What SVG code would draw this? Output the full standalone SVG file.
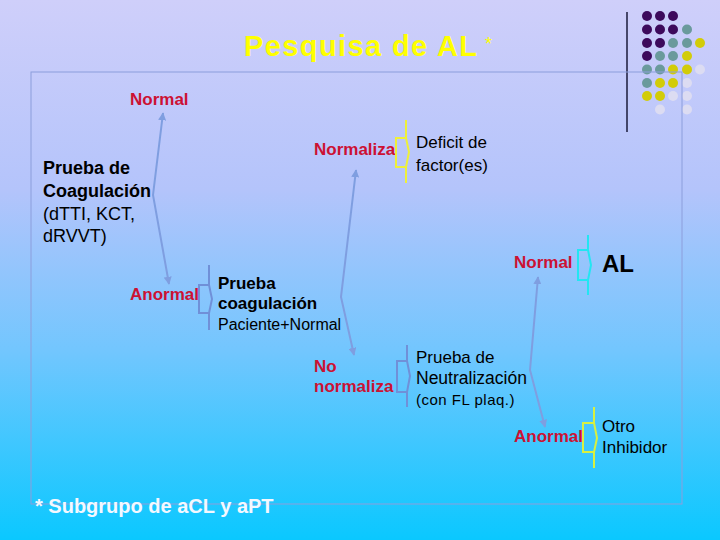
<svg xmlns="http://www.w3.org/2000/svg" width="720" height="540" viewBox="0 0 720 540">
<defs>
<linearGradient id="bg" x1="0" y1="0" x2="0" y2="1">
<stop offset="0" stop-color="#cfcffa"/>
<stop offset="0.35" stop-color="#b4c4fb"/>
<stop offset="0.65" stop-color="#72c6fe"/>
<stop offset="1" stop-color="#0ac8ff"/>
</linearGradient>
<marker id="ah" viewBox="0 0 10 10" refX="9" refY="5" markerWidth="4" markerHeight="4" orient="auto-start-reverse" markerUnits="strokeWidth">
<path d="M0,0 L10,5 L0,10 z" fill="#7f9ee0"/>
</marker>
<style>
text{font-family:"Liberation Sans",Arial,sans-serif}
.red{fill:#cc1133;font-weight:bold;font-size:17px}
.blk{fill:#000;font-size:17px}
.bold{font-weight:bold}
.conn{fill:none;stroke:#7f9ee0;stroke-width:2;marker-start:url(#ah);marker-end:url(#ah)}
.br{fill:none;stroke-width:2}
</style>
</defs>
<rect x="0" y="0" width="720" height="540" fill="url(#bg)"/>

<g id="decor">
<line x1="627" y1="12" x2="627" y2="132" stroke="#1a1a3a" stroke-width="1.5"/>
<g fill="#3d0a5c">
<circle cx="647" cy="16" r="5"/><circle cx="660" cy="16" r="5"/><circle cx="673" cy="16" r="5"/>
<circle cx="647" cy="29.5" r="5"/><circle cx="660" cy="29.5" r="5"/><circle cx="673" cy="29.5" r="5"/>
<circle cx="647" cy="43" r="5"/><circle cx="660" cy="43" r="5"/>
<circle cx="647" cy="56" r="5"/>
</g>
<g fill="#6a9a9c">
<circle cx="687" cy="29.5" r="5"/>
<circle cx="673" cy="43" r="5"/><circle cx="687" cy="43" r="5"/>
<circle cx="660" cy="56" r="5"/><circle cx="673" cy="56" r="5"/>
<circle cx="647" cy="69.5" r="5"/><circle cx="660" cy="69.5" r="5"/>
<circle cx="647" cy="83" r="5"/>
</g>
<g fill="#d2cc08">
<circle cx="700" cy="43" r="5"/>
<circle cx="687" cy="56" r="5"/>
<circle cx="673" cy="69.5" r="5"/><circle cx="687" cy="69.5" r="5"/>
<circle cx="660" cy="83" r="5"/><circle cx="673" cy="83" r="5"/>
<circle cx="647" cy="96" r="5"/><circle cx="660" cy="96" r="5"/>
</g>
<g fill="#dcdcf2">
<circle cx="700" cy="69.5" r="5"/>
<circle cx="687" cy="83" r="5"/>
<circle cx="673" cy="96" r="5"/><circle cx="687" cy="96" r="5"/>
<circle cx="660" cy="109.5" r="5"/><circle cx="687" cy="109.5" r="5"/>
</g>
</g>

<rect id="frame" x="31" y="72" width="651" height="432" fill="none" stroke="#8c9edc" stroke-width="1"/>

<g id="title">
<text x="244" y="56" font-size="29" font-weight="bold" letter-spacing="1.4" fill="#ffff00">Pesquisa de AL</text>
<text x="485" y="50" font-size="18" fill="#ffff00">*</text>
</g>

<g id="connectors">
<path class="conn" d="M163,113 L153,195 L169,284"/>
<path class="conn" d="M356,170 L341,297 L354,355"/>
<path class="conn" d="M538,277 L530,370 L545,427"/>
</g>

<g id="n-normal-top"><text class="red" x="130" y="105">Normal</text></g>

<g id="n-prueba-coag">
<text class="blk bold" x="43" y="174" style="font-size:18px">Prueba de</text>
<text class="blk bold" x="43" y="197" style="font-size:18px">Coagulación</text>
<text class="blk" x="43" y="220" style="font-size:18px">(dTTI, KCT,</text>
<text class="blk" x="43" y="242" style="font-size:18px">dRVVT)</text>
</g>

<g id="n-normaliza"><text class="red" x="314" y="155">Normaliza</text></g>
<g id="b-deficit">
<path class="br" stroke="#eef03a" d="M406,120 L406,138 L409,152 L406,167 L406,183 M406,138 L396,138 L396,167 L406,167"/>
</g>
<g id="n-deficit">
<text class="blk" x="416" y="148">Deficit de</text>
<text class="blk" x="416" y="171">factor(es)</text>
</g>

<g id="n-anormal-1"><text class="red" x="130" y="300">Anormal</text></g>
<g id="b-prueba-pn">
<path class="br" stroke="#7090d8" d="M209,265 L209,285 L212,299 L209,313 L209,330 M209,285 L199,285 L199,313 L209,313"/>
</g>
<g id="n-prueba-pn">
<text class="blk bold" x="218" y="289">Prueba</text>
<text class="blk bold" x="218" y="309">coagulación</text>
<text class="blk" x="218" y="330" style="font-size:16px">Paciente+Normal</text>
</g>

<g id="n-normal-al"><text class="red" x="514" y="268">Normal</text></g>
<g id="b-al">
<path class="br" stroke="#22e6f2" d="M588,235 L588,250 L591,265 L588,280 L588,295 M588,250 L578,250 L578,280 L588,280"/>
</g>
<g id="n-al"><text x="602" y="272" font-size="24" font-weight="bold" fill="#000">AL</text></g>

<g id="n-no-normaliza">
<text class="red" x="314" y="372">No</text>
<text class="red" x="314" y="392">normaliza</text>
</g>
<g id="b-neutral">
<path class="br" stroke="#7090d8" d="M407,345 L407,361 L410,376 L407,392 L407,407 M407,361 L397,361 L397,392 L407,392"/>
</g>
<g id="n-neutral">
<text class="blk" x="416" y="363">Prueba de</text>
<text class="blk" x="416" y="384" style="font-size:17.5px">Neutralización</text>
<text class="blk" x="416" y="405" style="font-size:15px;letter-spacing:0.5px">(con FL plaq.)</text>
</g>

<g id="n-anormal-2"><text class="red" x="514" y="442">Anormal</text></g>
<g id="b-otro">
<path class="br" stroke="#d8f040" d="M594,407 L594,423 L597,438 L594,452 L594,468 M594,423 L583,423 L583,452 L594,452"/>
</g>
<g id="n-otro">
<text class="blk" x="602" y="432">Otro</text>
<text class="blk" x="602" y="453">Inhibidor</text>
</g>

<g id="footnote"><text x="35" y="513" font-size="20" font-weight="bold" fill="#f4f8ff">* Subgrupo de aCL y aPT</text></g>
</svg>
